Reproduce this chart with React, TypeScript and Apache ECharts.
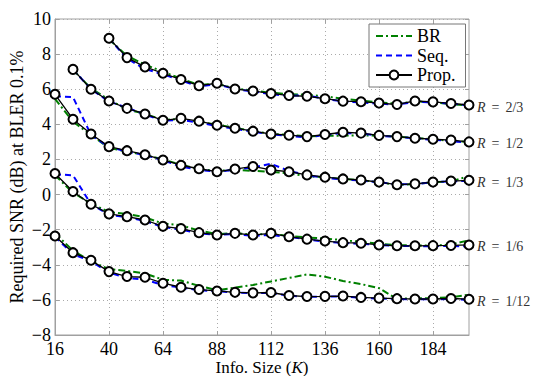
import React, { useEffect, useRef } from "react";
import * as echarts from "echarts";

const K = [16, 24, 32, 40, 48, 56, 64, 72, 80, 88, 96, 104, 112, 120, 128, 136, 144, 152, 160, 168, 176, 184, 192, 200];
const RATES = ["2/3", "1/2", "1/3", "1/6", "1/12"];

// R = 2/3
const br23 = [null, null, null, 8.85, 7.9, 7.4, 7.0, 6.6, 6.25, 6.3, 6.05, 5.92, 5.8, 5.72, 5.68, 5.6, 5.45, 5.35, 5.25, 5.18, 5.3, 5.25, 5.15, 5.08];
const seq23 = [null, null, null, 8.9, 7.75, 7.15, 6.85, 6.5, 6.15, 6.3, 6.0, 5.88, 5.72, 5.62, 5.65, 5.45, 5.3, 5.25, 5.18, 5.12, 5.28, 5.25, 5.18, 5.08];
const prop23 = [null, null, null, 8.9, 7.8, 7.27, 6.91, 6.55, 6.2, 6.34, 6.01, 5.9, 5.76, 5.64, 5.6, 5.46, 5.32, 5.29, 5.21, 5.13, 5.33, 5.28, 5.19, 5.1];
// R = 1/2
const br12 = [null, 7.1, 6.05, 5.4, 4.85, 4.6, 4.25, 4.3, 4.15, 3.98, 3.8, 3.62, 3.45, 3.4, 3.32, 3.35, 3.35, 3.38, 3.35, 3.3, 3.22, 3.15, 3.05, 3.0];
const seq12 = [null, 7.13, 6.0, 5.3, 4.95, 4.55, 4.2, 4.25, 4.1, 3.9, 3.75, 3.58, 3.42, 3.35, 3.25, 3.4, 3.5, 3.48, 3.35, 3.28, 3.2, 3.12, 3.05, 2.95];
const prop12 = [null, 7.13, 6.0, 5.33, 4.91, 4.59, 4.23, 4.34, 4.18, 3.95, 3.78, 3.61, 3.45, 3.38, 3.3, 3.42, 3.55, 3.5, 3.37, 3.3, 3.21, 3.15, 3.1, 3.0];
// R = 1/3
const br13 = [5.45, 4.15, 3.4, 2.65, 2.45, 2.25, 2.0, 1.7, 1.45, 1.35, 1.4, 1.35, 1.3, 1.2, 1.05, 0.98, 0.88, 0.82, 0.7, 0.55, 0.6, 0.7, 0.75, 1.05];
const seq13 = [5.6, 5.55, 3.4, 2.7, 2.45, 2.25, 1.95, 1.6, 1.4, 1.3, 1.42, 1.55, 1.75, 1.35, 1.1, 0.95, 0.85, 0.8, 0.7, 0.58, 0.6, 0.7, 0.75, 0.78];
const prop13 = [5.71, 4.29, 3.45, 2.73, 2.5, 2.27, 1.97, 1.67, 1.47, 1.3, 1.45, 1.6, 1.4, 1.3, 1.12, 0.99, 0.89, 0.83, 0.71, 0.56, 0.61, 0.71, 0.77, 0.81];
// R = 1/6
const br16 = [1.1, 0.1, -0.5, -1.0, -1.1, -1.3, -1.65, -1.75, -2.05, -2.25, -2.2, -2.28, -2.25, -2.35, -2.45, -2.5, -2.6, -2.7, -2.8, -2.88, -2.9, -2.9, -2.85, -2.6];
const seq16 = [1.15, 1.1, -0.55, -1.15, -1.3, -1.5, -1.85, -2.0, -2.2, -2.3, -2.25, -2.35, -2.3, -2.42, -2.55, -2.68, -2.76, -2.8, -2.88, -2.93, -2.94, -2.94, -2.93, -2.95];
const prop16 = [1.2, 0.17, -0.55, -1.1, -1.26, -1.45, -1.81, -1.94, -2.17, -2.3, -2.21, -2.3, -2.21, -2.4, -2.54, -2.65, -2.74, -2.77, -2.87, -2.92, -2.92, -2.91, -2.9, -2.87];
// R = 1/12
const br112 = [-2.2, -3.2, -3.8, -4.25, -4.35, -4.5, -4.85, -4.9, -5.2, -5.45, -5.3, -5.15, -4.95, -4.75, -4.55, -4.68, -4.92, -5.1, -5.33, -5.95, -5.9, -5.9, -5.85, -5.7];
const seq112 = [-2.4, -3.4, -3.8, -4.45, -4.75, -4.85, -5.15, -5.3, -5.45, -5.5, -5.58, -5.62, -5.6, -5.76, -5.82, -5.82, -5.8, -5.88, -5.92, -5.95, -5.97, -5.97, -5.95, -6.0];
const prop112 = [-2.36, -3.31, -3.74, -4.39, -4.67, -4.71, -5.05, -5.28, -5.41, -5.49, -5.57, -5.6, -5.58, -5.75, -5.81, -5.8, -5.78, -5.86, -5.9, -5.93, -5.95, -5.95, -5.92, -5.96];

const BR = [br23, br12, br13, br16, br112];
const SEQ = [seq23, seq12, seq13, seq16, seq112];
const PROP = [prop23, prop12, prop13, prop16, prop112];

const FONT = "Liberation Serif";
const AXIS_GRAY = "#a0a0a0";

export default function App() {
  const ref = useRef<HTMLDivElement>(null);
  useEffect(() => {
    if (!ref.current) return;
    const chart = echarts.init(ref.current, undefined, { renderer: "svg" });
    const series: any[] = [];
    BR.forEach((d) => {
      series.push({
        name: "BR",
        type: "line",
        data: d,
        showSymbol: false,
        symbol: "none",
        lineStyle: { color: "#008000", width: 2, type: [7, 3, 2, 3] },
        itemStyle: { color: "#008000" },
        z: 2,
      });
    });
    SEQ.forEach((d) => {
      series.push({
        name: "Seq.",
        type: "line",
        data: d,
        showSymbol: false,
        symbol: "none",
        lineStyle: { color: "#0000ff", width: 2, type: [6, 4] },
        itemStyle: { color: "#0000ff" },
        z: 3,
      });
    });
    PROP.forEach((d, i) => {
      series.push({
        name: "Prop.",
        type: "line",
        data: d,
        symbol: "emptyCircle",
        symbolSize: 9,
        lineStyle: { color: "#000", width: 1.3 },
        itemStyle: { color: "#000", borderColor: "#000", borderWidth: 1.3 },
        z: 4,
        endLabel: {
          show: true,
          distance: 8,
          offset: [0, 2],
          formatter: () => "{i|R}{e|=}{n|" + RATES[i] + "}",
          fontFamily: FONT,
          fontSize: 14,
          color: "#333",
          rich: {
            i: { fontFamily: FONT, fontSize: 14, fontStyle: "italic", color: "#333" },
            e: { fontFamily: FONT, fontSize: 14, color: "#333", padding: [0, 6] },
            n: { fontFamily: FONT, fontSize: 14, color: "#333" },
          },
        },
      });
    });

    const yLabelFmt = (v: number) => (v < 0 ? "\u2212" + Math.abs(v) : String(v));

    chart.setOption({
      animation: false,
      backgroundColor: "#fff",
      textStyle: { fontFamily: FONT },
      grid: {
        left: 55,
        right: 65,
        top: 19,
        bottom: 41,
        containLabel: false,
        outerBoundsMode: "none",
        show: true,
        borderColor: AXIS_GRAY,
        borderWidth: 1,
      },
      legend: {
        data: [
          { name: "BR", itemStyle: { opacity: 0 } },
          { name: "Seq.", itemStyle: { opacity: 0 } },
          { name: "Prop." },
        ],
        orient: "vertical",
        left: 369,
        top: 24,
        padding: [3, 10, 3, 6],
        itemGap: 1.5,
        itemWidth: 36,
        itemHeight: 11,
        backgroundColor: "#fff",
        borderColor: "#777",
        borderWidth: 1,
        textStyle: { fontFamily: FONT, fontSize: 18, color: "#000", lineHeight: 17 },
      },
      xAxis: [
        {
          type: "category",
          data: K.map(String),
          boundaryGap: false,
          position: "bottom",
          name: "Info. Size ({i|K})",
          nameLocation: "middle",
          nameGap: 24,
          nameMoveOverlap: false,
          nameTextStyle: {
            fontFamily: FONT,
            fontSize: 17,
            color: "#000",
            rich: { i: { fontFamily: FONT, fontSize: 17, fontStyle: "italic", color: "#000" } },
          },
          axisLine: { onZero: false, lineStyle: { color: AXIS_GRAY } },
          axisTick: { show: true, inside: true, length: 4, interval: 2, lineStyle: { color: AXIS_GRAY } },
          axisLabel: { interval: 2, fontFamily: FONT, fontSize: 18, color: "#000", margin: 5 },
          splitLine: { show: true, interval: 2, lineStyle: { color: "#aaa", type: [1, 3], width: 1 } },
        },
        {
          type: "category",
          data: K.map(String),
          boundaryGap: false,
          position: "top",
          axisLine: { show: false, onZero: false },
          axisTick: { show: true, inside: true, length: 4, interval: 2, lineStyle: { color: AXIS_GRAY } },
          axisLabel: { show: false },
          splitLine: { show: false },
        },
      ],
      yAxis: [
        {
          type: "value",
          min: -8,
          max: 10,
          interval: 2,
          position: "left",
          name: "Required SNR (dB) at BLER 0.1%",
          nameLocation: "middle",
          nameGap: 29,
          nameMoveOverlap: false,
          nameTextStyle: { fontFamily: FONT, fontSize: 18, color: "#000" },
          axisLine: { show: true, onZero: false, lineStyle: { color: AXIS_GRAY } },
          axisTick: { show: true, inside: true, length: 4, lineStyle: { color: AXIS_GRAY } },
          axisLabel: { fontFamily: FONT, fontSize: 18, color: "#000", margin: 4, formatter: yLabelFmt },
          splitLine: { show: true, lineStyle: { color: "#aaa", type: [1, 3], width: 1 } },
        },
        {
          type: "value",
          min: -8,
          max: 10,
          interval: 2,
          position: "right",
          axisLine: { show: false, onZero: false },
          axisTick: { show: true, inside: true, length: 4, lineStyle: { color: AXIS_GRAY } },
          axisLabel: { show: false },
          splitLine: { show: false },
        },
      ],
      series,
    });
    return () => chart.dispose();
  }, []);
  return (
    <div
      ref={ref}
      style={{ width: 534, height: 376, position: "absolute", left: 0, top: 0, background: "#fff" }}
    />
  );
}
